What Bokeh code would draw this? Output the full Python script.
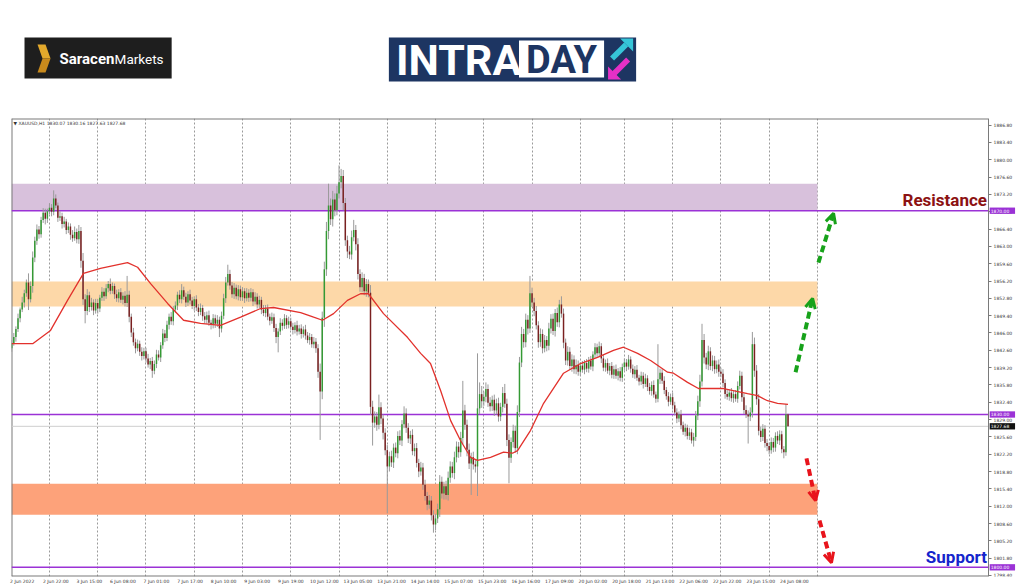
from bokeh.plotting import figure
from bokeh.layouts import column
from bokeh.models import (Range1d, FixedTicker, PrintfTickFormatter, Grid, BoxAnnotation,
                          Arrow, OpenHead, LinearAxis)
from bokeh.core.properties import value
from bokeh.embed import file_html
from bokeh.resources import INLINE

# ---------------- DATA ----------------
symbol_header = "\u25bc XAUUSD,H1  1830.07 1830.16 1827.63 1827.68"

# hourly closes, one list per trading day (bar index 0 = 2 Jun 06:00)
first_open = 1843.0
close_2jun = [1844.0, 1845.2, 1846.8, 1848.9, 1850.6, 1852.0, 1853.8, 1855.9, 1852.6, 1855.2, 1860.8, 1864.1,
              1866.3, 1865.4, 1868.2, 1869.6, 1868.4, 1869.9]
close_3jun = [1870.6, 1869.8, 1872.4, 1871.0, 1868.6, 1868.9, 1867.4, 1867.9, 1866.2, 1866.9, 1865.3, 1864.6,
              1865.8, 1864.4, 1866.0, 1860.2, 1852.6, 1850.3, 1853.4, 1851.1, 1852.0, 1850.4, 1851.9]
close_6jun = [1850.8, 1852.9, 1854.1, 1853.2, 1854.8, 1855.6, 1854.3, 1855.2, 1853.6, 1852.8, 1854.0, 1852.5,
              1853.3, 1851.9, 1853.5, 1849.2, 1846.1, 1844.2, 1843.0, 1843.9, 1842.3, 1841.5, 1842.4]
close_7jun = [1841.0, 1839.8, 1840.5, 1838.6, 1839.9, 1841.8, 1841.2, 1843.6, 1845.9, 1845.0, 1847.6, 1849.2,
              1848.3, 1850.6, 1851.4, 1853.5, 1852.6, 1854.4, 1853.1, 1852.0, 1853.6, 1852.4, 1851.3]
close_8jun = [1852.6, 1851.0, 1850.1, 1850.9, 1849.3, 1848.6, 1849.5, 1848.0, 1847.6, 1848.9, 1847.8, 1848.6,
              1846.9, 1849.4, 1852.8, 1855.9, 1857.6, 1855.3, 1853.6, 1854.9, 1853.2, 1854.6, 1853.0]
close_9jun = [1854.2, 1852.8, 1853.9, 1852.9, 1854.0, 1852.2, 1853.1, 1851.6, 1852.5, 1850.6, 1849.9, 1850.8,
              1849.2, 1848.4, 1849.1, 1847.0, 1845.2, 1846.3, 1848.0, 1847.4, 1848.9, 1847.6, 1848.3]
close_10jun = [1847.2, 1846.6, 1847.5, 1846.3, 1846.9, 1845.8, 1846.7, 1845.5, 1844.6, 1845.2, 1843.8, 1844.3,
               1843.0, 1838.4, 1834.5, 1849.0, 1858.5, 1866.0, 1871.0, 1868.3, 1872.2, 1870.1, 1873.4]
close_13jun = [1875.6, 1876.8, 1871.5, 1864.2, 1862.0, 1861.4, 1864.8, 1866.2, 1863.4, 1857.6, 1855.0, 1856.8,
               1854.2, 1855.6, 1853.9, 1831.5, 1828.4, 1829.6, 1828.0, 1831.4, 1829.2, 1826.4, 1823.0]
close_14jun = [1819.8, 1821.8, 1820.6, 1823.5, 1822.4, 1825.8, 1824.9, 1828.1, 1830.2, 1827.4, 1825.3, 1826.0,
               1822.8, 1823.4, 1820.5, 1818.8, 1819.6, 1816.2, 1814.0, 1812.3, 1813.1, 1810.2, 1808.4]
close_15jun = [1809.6, 1811.4, 1816.8, 1814.5, 1815.9, 1814.2, 1817.6, 1819.8, 1818.5, 1821.6, 1823.7, 1822.6,
               1825.4, 1830.8, 1828.0, 1823.1, 1820.4, 1821.6, 1820.2, 1819.8, 1831.2, 1834.0, 1832.6]
close_16jun = [1833.5, 1835.0, 1832.3, 1831.6, 1832.9, 1830.8, 1832.2, 1829.6, 1831.5, 1834.2, 1832.1, 1825.0,
               1821.5, 1824.6, 1826.8, 1823.4, 1830.5, 1840.2, 1845.8, 1844.2, 1848.6, 1846.9, 1853.8]
close_17jun = [1852.0, 1850.3, 1847.5, 1844.2, 1845.8, 1843.0, 1844.6, 1843.5, 1846.9, 1848.8, 1846.4, 1849.9,
               1848.1, 1851.6, 1849.8, 1844.1, 1840.6, 1842.3, 1839.5, 1840.8, 1838.9, 1839.7, 1838.4]
close_20jun = [1839.6, 1838.8, 1840.1, 1839.0, 1840.6, 1839.4, 1841.8, 1843.2, 1842.0, 1843.4, 1841.0, 1839.2,
               1840.1, 1838.6, 1839.5, 1837.8, 1838.9, 1837.6, 1838.5, 1837.2, 1839.3]
close_21jun = [1840.2, 1839.4, 1840.8, 1839.0, 1837.9, 1838.8, 1837.2, 1836.5, 1837.6, 1836.0, 1837.1, 1835.4,
               1834.6, 1835.8, 1833.9, 1833.1, 1836.9, 1838.2, 1836.6, 1834.8, 1833.6, 1832.5, 1833.4]
close_22jun = [1831.8, 1830.4, 1829.2, 1830.0, 1827.9, 1826.6, 1827.4, 1825.8, 1826.5, 1824.9, 1825.6, 1829.8,
               1832.6, 1836.5, 1844.6, 1841.2, 1839.8, 1842.4, 1839.5, 1840.6, 1838.9, 1839.8, 1838.4]
close_23jun = [1838.0, 1836.2, 1834.0, 1833.5, 1834.3, 1833.2, 1834.0, 1833.1, 1835.6, 1837.6, 1833.4, 1830.9,
               1830.0, 1829.6, 1830.4, 1843.8, 1838.6, 1833.0, 1826.8, 1825.6, 1827.2, 1824.4, 1823.8]
close_24jun = [1823.0, 1824.6, 1823.5, 1825.8, 1824.9, 1826.1, 1823.2, 1822.6, 1830.07, 1827.68]

# upper / lower wick lengths (USD) for each bar, same day order
up_wick = [
    0.6, 0.8, 0.5, 0.9, 0.4, 1.1, 0.7, 0.6, 1.8, 0.9, 1.2, 0.8, 1.0, 0.7, 0.6, 0.9, 0.8, 0.5,
    0.9, 0.7, 1.6, 0.8, 0.6, 1.0, 0.7, 0.9, 0.5, 0.8, 0.6, 0.9, 1.1, 0.7, 1.2, 0.8, 1.5, 1.0, 1.2, 0.7, 0.9, 0.6, 0.8,
    0.8, 0.6, 0.9, 0.7, 0.8, 0.6, 1.1, 0.7, 0.5, 0.9, 0.6, 0.8, 0.7, 0.9, 3.7, 0.8, 0.6, 0.9, 0.7, 0.8, 0.6, 0.9, 0.7,
    0.7, 0.9, 0.6, 0.8, 0.7, 0.9, 0.8, 0.6, 0.9, 0.7, 0.8, 0.6, 0.9, 0.7, 0.8, 0.6, 0.9, 1.2, 0.7, 0.8, 0.6, 0.9, 0.7,
    0.6, 0.8, 0.7, 0.9, 0.6, 0.8, 0.7, 0.9, 0.6, 0.8, 0.7, 0.9, 0.6, 0.8, 0.9, 1.1, 1.8, 0.8, 0.7, 0.9, 0.6, 0.8, 0.7,
    0.8, 0.6, 0.9, 0.7, 0.8, 0.6, 0.9, 0.7, 0.8, 0.6, 0.9, 0.7, 0.8, 0.6, 0.9, 0.7, 0.8, 0.6, 0.9, 0.7, 0.8, 0.6, 0.9,
    0.7, 0.8, 0.6, 0.9, 0.7, 0.8, 0.6, 0.9, 0.7, 0.8, 0.6, 0.9, 0.7, 0.8, 1.6, 1.2, 1.5, 1.8, 4.3, 1.4, 1.7, 1.2, 1.5,
    3.3, 1.4, 1.2, 1.0, 0.9, 1.1, 1.3, 2.0, 1.0, 1.2, 0.9, 1.1, 0.8, 1.0, 0.9, 1.5, 1.2, 1.0, 0.9, 2.5, 1.0, 0.8, 0.9,
    1.0, 0.9, 1.1, 0.8, 1.0, 0.9, 1.1, 0.8, 1.4, 1.0, 0.9, 0.8, 1.1, 0.9, 1.0, 0.8, 1.1, 0.9, 1.0, 0.8, 1.1, 0.9, 1.0,
    0.9, 1.1, 1.3, 1.0, 0.9, 1.1, 1.2, 1.0, 0.9, 1.1, 1.0, 0.9, 1.2, 5.8, 1.1, 1.0, 1.2, 0.9, 1.1, 1.0, 10.8, 2.3, 1.6,
    1.0, 1.3, 0.9, 1.1, 0.8, 1.0, 0.9, 1.1, 0.8, 1.2, 1.8, 1.0, 1.1, 0.9, 1.2, 1.0, 1.3, 1.1, 1.4, 1.0, 1.2, 0.9, 3.4,
    1.1, 0.9, 1.0, 0.8, 1.1, 0.9, 1.0, 0.8, 1.1, 0.9, 1.0, 0.8, 1.1, 0.9, 1.6, 1.0, 0.8, 1.1, 0.9, 1.0, 0.8, 1.1, 0.9,
    0.7, 0.9, 0.6, 0.8, 0.7, 0.9, 0.6, 0.8, 0.7, 0.9, 0.6, 0.8, 0.7, 0.9, 0.6, 0.8, 0.7, 0.9, 0.6, 0.8, 0.7,
    0.8, 0.7, 0.9, 0.6, 0.8, 0.7, 0.9, 0.6, 0.8, 0.7, 0.9, 0.6, 0.8, 0.7, 0.9, 0.6, 6.9, 0.8, 0.7, 0.9, 0.6, 0.8, 0.7,
    0.9, 0.7, 0.8, 0.6, 0.9, 0.7, 0.8, 0.6, 0.9, 0.7, 0.8, 0.9, 1.1, 1.3, 3.2, 1.2, 0.9, 1.1, 0.8, 1.0, 0.9, 0.8, 1.0,
    0.8, 0.9, 0.7, 0.8, 0.6, 0.9, 0.7, 0.8, 0.9, 1.0, 0.8, 0.7, 0.9, 0.8, 1.0, 2.4, 1.3, 1.1, 1.0, 0.8, 0.9, 0.7, 0.8,
    0.7, 0.9, 0.8, 0.7, 0.9, 0.8, 0.7, 0.6, 2.0, 0.09]
down_wick = [
    0.7, 0.5, 0.9, 0.6, 0.8, 0.5, 1.0, 0.7, 2.1, 0.6, 1.3, 0.9, 0.8, 0.9, 0.7, 0.6, 1.1, 0.8,
    0.6, 0.9, 0.7, 0.5, 0.8, 0.6, 0.9, 0.7, 0.8, 0.6, 1.0, 0.7, 0.5, 0.8, 0.9, 1.4, 1.1, 2.4, 0.8, 1.0, 0.7, 0.9, 0.6,
    1.0, 0.7, 0.6, 0.9, 0.5, 0.8, 0.7, 0.6, 0.9, 0.7, 0.8, 0.6, 0.9, 0.7, 0.8, 1.1, 0.9, 0.7, 1.0, 0.6, 0.8, 0.9, 0.7,
    0.8, 0.6, 0.9, 1.4, 0.7, 0.8, 0.6, 0.9, 0.7, 0.8, 0.6, 0.9, 0.7, 0.8, 0.6, 0.9, 0.7, 0.8, 0.6, 0.9, 0.7, 0.8, 0.6,
    0.9, 0.7, 0.8, 0.6, 0.9, 0.7, 0.8, 0.6, 0.9, 0.7, 0.8, 0.6, 1.7, 0.8, 0.7, 0.9, 0.6, 0.8, 0.7, 0.9, 0.6, 0.8, 0.7,
    0.7, 0.9, 0.6, 0.8, 0.7, 0.9, 0.6, 0.8, 0.7, 0.9, 0.6, 0.8, 0.7, 0.9, 0.6, 0.8, 1.2, 3.0, 0.7, 0.9, 0.6, 0.8, 0.7,
    0.6, 0.9, 0.7, 0.8, 0.6, 0.9, 0.7, 0.8, 0.6, 0.9, 0.7, 0.8, 0.9, 1.2, 9.5, 1.5, 1.8, 1.3, 1.6, 1.1, 1.4, 1.2, 1.0,
    1.0, 1.2, 1.4, 1.1, 1.3, 0.9, 1.0, 0.8, 1.2, 1.1, 0.9, 1.0, 0.8, 1.1, 0.9, 1.6, 4.5, 1.0, 1.2, 0.9, 1.1, 1.3, 1.0,
    9.2, 1.0, 0.9, 1.1, 0.8, 1.0, 0.9, 1.1, 0.8, 1.0, 0.9, 1.1, 0.8, 1.0, 0.9, 1.1, 0.8, 1.0, 0.9, 1.1, 0.8, 1.0, 1.6,
    1.1, 0.9, 1.5, 1.0, 1.2, 0.9, 1.1, 1.0, 0.9, 1.2, 1.0, 1.1, 0.9, 1.2, 1.0, 1.3, 1.1, 6.2, 1.0, 1.2, 5.8, 1.1, 1.3,
    0.9, 1.1, 0.8, 1.0, 0.9, 1.1, 0.8, 1.0, 0.9, 1.1, 0.8, 1.2, 5.0, 1.0, 1.1, 0.9, 1.2, 1.0, 0.9, 1.1, 1.0, 1.2, 0.9,
    0.9, 1.0, 0.8, 1.1, 0.9, 1.0, 0.8, 1.1, 0.9, 1.0, 0.8, 1.1, 0.9, 1.0, 0.8, 1.1, 0.9, 1.0, 0.8, 1.1, 0.9, 1.0, 0.8,
    0.8, 0.6, 0.9, 0.7, 0.8, 0.6, 0.9, 0.7, 0.8, 0.6, 0.9, 0.7, 0.8, 0.6, 0.9, 0.7, 0.8, 0.6, 0.9, 0.7, 0.8,
    0.7, 0.9, 0.6, 0.8, 0.7, 0.9, 0.6, 0.8, 0.7, 0.9, 0.6, 0.8, 0.7, 0.9, 0.6, 0.8, 0.7, 0.9, 0.6, 0.8, 0.7, 0.9, 0.6,
    0.8, 0.6, 0.9, 0.7, 0.8, 0.6, 0.9, 0.7, 0.8, 0.6, 1.2, 0.8, 0.9, 1.1, 1.0, 1.2, 0.9, 1.1, 0.8, 1.0, 0.9, 0.8, 1.0,
    0.7, 0.8, 0.9, 0.6, 0.8, 0.7, 0.9, 0.6, 0.8, 0.7, 0.9, 0.8, 0.7, 5.3, 0.9, 1.0, 1.2, 1.1, 0.9, 1.0, 0.8, 0.9, 1.0,
    0.8, 0.7, 0.9, 0.8, 0.7, 0.9, 0.8, 1.2, 0.7, 0.05]

# moving average (red line) read at a few bars
ma_bar = [0, 10, 18.5, 26.6, 34.2, 42.3, 55.2, 60.0, 66.2, 74.3, 81.9, 90.0, 99.5, 109.1, 118.6, 124.8, 137.7,
          143.9, 148.1, 153.4, 160.0, 166.2, 170.0, 177.2, 188.7, 194.9, 199.6, 204.4, 209.2, 213.9, 218.7,
          222.0, 228.2, 234.4, 238.7, 241.1, 247.3, 253.5, 263.0, 271.1, 279.2, 286.8, 291.6, 298.3, 304.5,
          312.6, 315.4, 322.1, 327.3, 339.3, 350.7, 355.5, 360.2, 365.0, 370.0]
ma_price = [1843.9, 1843.9, 1846.5, 1852.4, 1857.7, 1858.7, 1859.8, 1858.9, 1855.7, 1851.8, 1848.5, 1847.9,
            1847.5, 1849.1, 1850.8, 1851.0, 1850.0, 1849.1, 1848.5, 1849.8, 1852.4, 1853.7, 1853.7, 1849.8,
            1845.1, 1842.0, 1840.0, 1834.7, 1828.8, 1824.9, 1821.6, 1821.0, 1821.6, 1822.6, 1822.4, 1822.9,
            1826.9, 1832.2, 1838.1, 1840.0, 1841.2, 1842.6, 1843.2, 1842.0, 1840.6, 1838.3, 1838.1, 1836.3,
            1835.1, 1835.1, 1834.1, 1833.7, 1832.7, 1832.2, 1832.0]

# time axis
day_start_bars = [18, 41, 64, 87, 110, 133, 156, 179, 202, 225, 248, 271, 292, 315, 338, 361, 384]
time_label_bars = [0, 16, 32, 48, 64, 80, 96, 112, 128, 144, 160, 176, 192, 208, 224, 240, 256, 272, 288,
                   304, 320, 336, 352, 368]
time_labels = ["2 Jun 2022", "2 Jun 22:00", "3 Jun 15:00", "6 Jun 08:00", "7 Jun 01:00", "7 Jun 17:00",
               "8 Jun 10:00", "9 Jun 03:00", "9 Jun 19:00", "10 Jun 12:00", "13 Jun 05:00", "13 Jun 21:00",
               "14 Jun 14:00", "15 Jun 07:00", "15 Jun 23:00", "16 Jun 16:00", "17 Jun 09:00", "20 Jun 02:00",
               "20 Jun 18:00", "21 Jun 13:00", "22 Jun 06:00", "22 Jun 22:00", "23 Jun 15:00", "24 Jun 08:00"]

# price axis ticks
price_ticks = [1798.40, 1801.80, 1805.20, 1808.60, 1812.00, 1815.40, 1818.80, 1822.20, 1825.60, 1829.00,
               1832.40, 1835.80, 1839.20, 1842.60, 1846.00, 1849.40, 1852.80, 1856.20, 1859.60, 1863.00,
               1866.40, 1869.80, 1873.20, 1876.60, 1880.00, 1883.40, 1886.80]

# zones
zone_bottom = [1870.0, 1851.2, 1810.3]
zone_top = [1875.3, 1856.1, 1816.4]
zone_colors = ["#d8c1dc", "#fdd8a8", "#fda27a"]
zone_end_bar = 384

# key levels and price tags
tag_prices = [1870.0, 1830.0, 1800.0, 1827.68]
tag_text = ["1870.00", "1830.00", "1800.00", "1827.68"]
tag_colors = ["#9b32d6", "#9b32d6", "#9b32d6", "#111111"]
level_prices = [1870.0, 1830.0, 1800.0]
last_price = 1827.68

# scenario arrows (bar, price)
arrow_x0 = [373.6, 384.5, 378.8, 385.0]
arrow_y0 = [1838.3, 1859.8, 1821.4, 1809.2]
arrow_x1 = [381.7, 391.7, 383.1, 390.7]
arrow_y1 = [1852.8, 1869.5, 1813.1, 1800.9]
arrow_colors = ["#17a21a", "#17a21a", "#e8141c", "#e8141c"]

annot_text = ["Resistance", "Support"]
annot_x = [464.8, 464.8]
annot_y = [1872.2, 1802.1]
annot_colors = ["#8c1212", "#1424cc"]

# ---------------- BUILD ----------------
X0, X_AXIS, X_END = -0.1, 465.6, 482.7
Y0, Y1 = 1798.2, 1888.1

closes = (close_2jun + close_3jun + close_6jun + close_7jun + close_8jun + close_9jun + close_10jun +
          close_13jun + close_14jun + close_15jun + close_16jun + close_17jun + close_20jun + close_21jun +
          close_22jun + close_23jun + close_24jun)
n = len(closes)
opens = [first_open] + closes[:-1]
bars = list(range(n))
body_top = [max(o, c) for o, c in zip(opens, closes)]
body_bot = [min(o, c) for o, c in zip(opens, closes)]
highs = [t + u for t, u in zip(body_top, up_wick)]
lows = [b - d for b, d in zip(body_bot, down_wick)]
body_col = ["#349a34" if c >= o else "#7a2020" for o, c in zip(opens, closes)]

# header with logos (page pixel coordinates; the frame starts 12px in)
hdr = figure(width=1024, height=110, x_range=Range1d(12, 1024), y_range=Range1d(110, 0),
             toolbar_location=None, output_backend="svg", x_axis_location=None, y_axis_location=None,
             min_border=0, min_border_left=0, min_border_right=0, min_border_top=0, min_border_bottom=0)
hdr.grid.visible = False
hdr.outline_line_color = None
hdr.border_fill_color = "white"
hdr.quad(left=[25], right=[172], top=[37], bottom=[78], fill_color="#1e1e1e", line_color=None)
hdr.patch(x=[38, 46, 51, 43], y=[44, 44, 58, 58], fill_color="#e3a92c", line_color=None)
hdr.patch(x=[43, 51, 46, 38], y=[58, 58, 72, 72], fill_color="#c98a1c", line_color=None)
hdr.text(x=[60], y=[58], text=["Saracen"], text_font=value("Roboto"), text_font_style="bold",
         text_font_size="15px", text_color="white", text_baseline="middle", text_align="left")
hdr.text(x=[115], y=[58], text=["Markets"], text_font=value("Roboto"), text_font_size="13.5px",
         text_color="white", text_baseline="middle", text_align="left")
hdr.quad(left=[389], right=[636], top=[37], bottom=[81], fill_color="#1d3562", line_color=None)
hdr.quad(left=[519], right=[604], top=[40], bottom=[77], fill_color="white", line_color=None)
hdr.text(x=[396], y=[59], text=["INTRA"], text_font=value("Roboto"), text_font_style="bold",
         text_font_size="43px", text_color="white", text_baseline="middle", text_align="left")
hdr.text(x=[561.5], y=[59], text=["DAY"], text_font=value("Roboto"), text_font_style="bold",
         text_font_size="38px", text_color="#1d3562", text_baseline="middle", text_align="center")
hdr.patch(x=[620, 633, 633], y=[38, 38, 51], fill_color="#36c5d8", line_color=None)
hdr.patch(x=[610, 624, 628, 614], y=[56, 42, 46, 60], fill_color="#36c5d8", line_color=None)
hdr.patch(x=[608, 608, 621], y=[79, 66, 79], fill_color="#e530c6", line_color=None)
hdr.patch(x=[612, 626, 630, 616], y=[71, 57, 61, 75], fill_color="#e530c6", line_color=None)

# main chart
p = figure(width=1024, height=477, x_range=Range1d(X0, X_END), y_range=Range1d(Y0, Y1),
           toolbar_location=None, output_backend="svg", y_axis_location=None,
           min_border_top=8, min_border_left=11, min_border_right=0, min_border_bottom=11)
p.grid.visible = False
p.outline_line_color = None
p.background_fill_color = "white"
p.add_layout(Grid(dimension=0, ticker=FixedTicker(ticks=day_start_bars), grid_line_color="#9a9a9a",
                  grid_line_dash="2 2", grid_line_width=1))

for b, t, c in zip(zone_bottom, zone_top, zone_colors):
    p.add_layout(BoxAnnotation(bottom=b, top=t, right=zone_end_bar, fill_color=c, fill_alpha=1.0,
                               line_color=None, level="underlay"))

# chart border (left, top, bottom edges)
p.segment(x0=[X0, X0, X0], y0=[Y0, Y1, Y0], x1=[X0, X_AXIS, X_AXIS], y1=[Y1, Y1, Y0],
          line_color="#7a7a7a", line_width=2)

p.segment(x0=[X0], y0=[last_price], x1=[X_AXIS], y1=[last_price], line_color="#cfcfcf", line_width=1)
p.segment(x0=[X0] * len(level_prices), y0=level_prices, x1=[X_AXIS] * len(level_prices), y1=level_prices,
          line_color="#9b32d6", line_width=1.5)

p.segment(x0=bars, y0=lows, x1=bars, y1=highs, line_color="#9a9a9a", line_width=1)
p.vbar(x=bars, width=0.7, top=body_top, bottom=body_bot, fill_color=body_col, line_color=None)
p.line(ma_bar, ma_price, line_color="#e2312c", line_width=1.3)

for x0, y0, x1, y1, c in zip(arrow_x0, arrow_y0, arrow_x1, arrow_y1, arrow_colors):
    p.add_layout(Arrow(x_start=x0, y_start=y0, x_end=x1, y_end=y1, line_color=c, line_width=4,
                       line_dash="7 4", end=OpenHead(size=10, line_color=c, line_width=3)))

p.text(x=annot_x, y=annot_y, text=annot_text, text_color=annot_colors, text_font=value("Roboto"),
       text_font_style="bold", text_font_size="17px", text_align="right", text_baseline="middle")
p.text(x=[0.9], y=[1887.1], text=[symbol_header], text_font=value("DejaVu Sans"), text_font_size="4.5px",
       text_color="#333333", text_baseline="middle", text_align="left")

# price axis drawn at the chart's right edge
ya = LinearAxis(fixed_location=X_AXIS, ticker=FixedTicker(ticks=price_ticks),
                formatter=PrintfTickFormatter(format="%.2f"))
ya.major_label_text_font = "DejaVu Sans"
ya.major_label_text_font_size = "4.5px"
ya.major_label_text_color = "#333333"
ya.major_tick_out = 3
ya.major_tick_in = 0
ya.minor_tick_out = 0
ya.minor_tick_in = 0
ya.major_label_standoff = 2
ya.axis_line_color = "#7a7a7a"
ya.major_tick_line_color = "#7a7a7a"
p.add_layout(ya, "right")

# price tags over the axis
tag_left = [X_AXIS + 0.5] * len(tag_prices)
tag_right = [478.2] * len(tag_prices)
p.quad(left=tag_left, right=tag_right, bottom=[v - 0.62 for v in tag_prices],
       top=[v + 0.62 for v in tag_prices], fill_color=tag_colors, line_color=None, level="overlay")
p.text(x=[X_AXIS + 1.0] * len(tag_prices), y=tag_prices, text=tag_text, text_color="white",
       text_font=value("DejaVu Sans"), text_font_size="4.5px", text_align="left", text_baseline="middle",
       level="overlay")

xa = p.xaxis[0]
tick_pos = [b + 5 for b in time_label_bars]
xa.ticker = FixedTicker(ticks=tick_pos)
xa.major_label_overrides = {t: s for t, s in zip(tick_pos, time_labels)}
xa.major_label_text_font = "DejaVu Sans"
xa.major_label_text_font_size = "4.5px"
xa.major_label_text_color = "#333333"
xa.major_tick_out = 0
xa.major_tick_in = 0
xa.minor_tick_out = 0
xa.minor_tick_in = 0
xa.major_label_standoff = 2
xa.axis_line_color = None

layout = column(hdr, p, spacing=0)
open("out.html", "w").write(file_html(layout, INLINE))
